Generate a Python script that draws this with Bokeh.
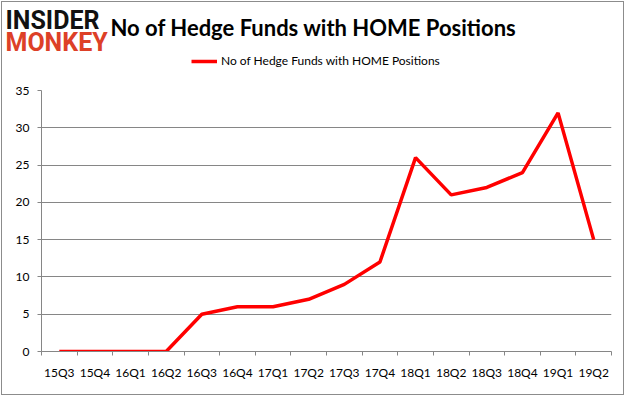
from bokeh.plotting import figure
from bokeh.layouts import column
from bokeh.models import FixedTicker, Legend, LegendItem, Range1d
from bokeh.core.properties import value
from bokeh.embed import file_html
from bokeh.resources import INLINE

quarters = ["15Q3", "15Q4", "16Q1", "16Q2", "16Q3", "16Q4", "17Q1", "17Q2",
            "17Q3", "17Q4", "18Q1", "18Q2", "18Q3", "18Q4", "19Q1", "19Q2"]
funds = [0, 0, 0, 0, 5, 6, 6, 7, 9, 12, 26, 21, 22, 24, 32, 15]
y_ticks = [0, 5, 10, 15, 20, 25, 30, 35]
series_name = "No of Hedge Funds with HOME Positions"
title_text = "No of Hedge Funds with HOME Positions"
logo_top = "INSIDER"
logo_bottom = "MONKEY"

W = 621
H = 392
HEAD_H = 80
MAIN_H = H - HEAD_H
GRAY = "#868686"
RED = "#ff0000"
FONT = "Lato"

# ---------- header (logo, title, legend) ----------
head = figure(width=W, height=HEAD_H, frame_width=W, frame_height=HEAD_H,
              output_backend="svg", toolbar_location=None,
              x_range=Range1d(0, W), y_range=Range1d(HEAD_H, 0),
              min_border=0, x_axis_type=None, y_axis_type=None)
head.outline_line_color = None
head.xgrid.grid_line_color = None
head.ygrid.grid_line_color = None

head.text(x=[3], y=[18], text=[logo_top], text_font=value("Roboto"),
          text_font_style="bold", text_font_size="25px", text_color="#111111",
          text_baseline="middle", text_align="left")
head.text(x=[3], y=[40], text=[logo_bottom], text_font=value("Roboto"),
          text_font_style="bold", text_font_size="25px", text_color="#dd4027",
          text_baseline="middle", text_align="left")
head.text(x=[108], y=[25], text=[title_text], text_font=value(FONT),
          text_font_style="bold", text_font_size="22px", text_color="#000000",
          text_baseline="middle", text_align="left")

swatch = head.line(x=[float("nan")], y=[float("nan")], line_color=RED, line_width=3.5)
legend = Legend(items=[LegendItem(label=series_name, renderers=[swatch])],
                location=(189, 14), orientation="horizontal",
                glyph_width=26, glyph_height=12, label_height=12, label_standoff=4,
                padding=0, margin=0, border_line_color=None,
                background_fill_alpha=0, label_text_font=FONT,
                label_text_font_size="12px", label_text_color="#000000")
head.add_layout(legend, "center")

# ---------- main chart ----------
xs = [i + 0.5 for i in range(len(quarters))]

p = figure(width=W, height=MAIN_H, output_backend="svg", toolbar_location=None,
           x_range=Range1d(0, len(quarters)), y_range=Range1d(0, 35),
           min_border_left=39, min_border_right=12, min_border_top=8,
           min_border_bottom=43)
p.outline_line_color = None

for fig in (head, p):
    if "frame_align" in fig.properties():
        fig.frame_align = False

p.line(xs, funds, line_color=RED, line_width=3.5)

p.xaxis.ticker = FixedTicker(ticks=xs, minor_ticks=list(range(len(quarters) + 1)))
p.xaxis.major_label_overrides = {x: q for x, q in zip(xs, quarters)}
p.xaxis.major_tick_out = 0
p.xaxis.major_tick_in = 0
p.xaxis.minor_tick_out = 4
p.xaxis.minor_tick_in = 0
p.xaxis.minor_tick_line_color = GRAY
p.xaxis.axis_line_color = GRAY
p.xaxis.major_label_standoff = 9
p.xaxis.major_label_text_font = FONT
p.xaxis.major_label_text_font_size = "12px"
p.xaxis.major_label_text_color = "#000000"
p.xgrid.grid_line_color = None

p.yaxis.ticker = FixedTicker(ticks=y_ticks)
p.yaxis.major_tick_out = 4
p.yaxis.major_tick_in = 0
p.yaxis.minor_tick_line_color = None
p.yaxis.major_tick_line_color = GRAY
p.yaxis.axis_line_color = GRAY
p.yaxis.major_label_standoff = 8
p.yaxis.major_label_text_font = FONT
p.yaxis.major_label_text_font_size = "12px"
p.yaxis.major_label_text_color = "#000000"
p.ygrid.grid_line_color = GRAY
p.ygrid.grid_line_width = 1

layout = column(head, p, spacing=0)
layout.styles = {"border": "1px solid #8c8c8c", "margin": "1px"}

open("out.html", "w").write(file_html(layout, INLINE))
